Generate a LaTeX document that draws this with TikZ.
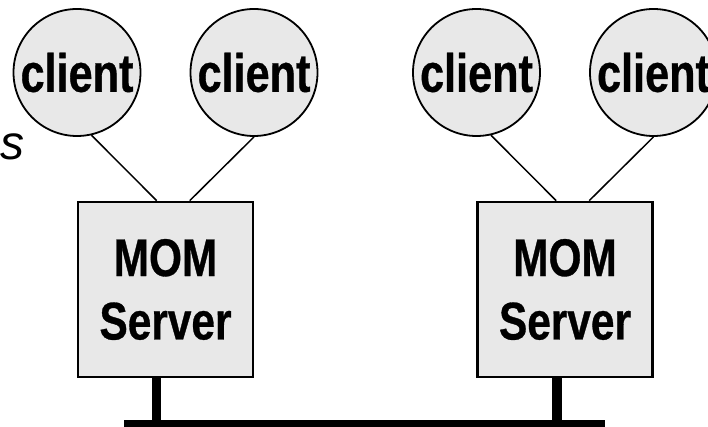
\documentclass[tikz,border=0pt]{standalone}
\usepackage{fontspec}
\setmainfont{Liberation Sans}
\newfontfamily\narrowfont{Liberation Sans}[FakeStretch=0.8,BoldFeatures={FakeBold=0.6}]
\usetikzlibrary{calc}
\definecolor{boxfill}{gray}{0.91}
\begin{document}
\begin{tikzpicture}[x=1pt,y=1pt,
  clientnode/.style={circle, draw, line width=1.8pt, fill=boxfill, minimum size=127pt, inner sep=0pt,
    font=\narrowfont\bfseries\fontsize{54}{60}\selectfont},
  server/.style={rectangle, draw, line width=2.6pt, fill=boxfill, minimum width=175pt, minimum height=175pt,
    inner sep=0pt, align=center, font=\narrowfont\bfseries\fontsize{53}{63.4}\selectfont},
  link/.style={line width=1.5pt},
  wire/.style={line width=9.5pt},
]
\clip (0,0) rectangle (708,427);
\fill[white] (0,0) rectangle (708,427);
% clients
\node[clientnode] (c1) at (77,354.5) {client};
\node[clientnode] (c2) at (254,354.5) {client};
\node[clientnode] (c3) at (476.5,354.5) {client};
\node[clientnode] (c4) at (653.5,354.5) {client};
% servers
\node[server] (s1) at (165.5,137.5) {MOM\\Server};
\node[server] (s2) at (565,137.5) {MOM\\Server};
% fragment of a word at the left edge
\node[anchor=base west, inner sep=0pt, font=\itshape\fontsize{48}{50}\selectfont] (frag) at (0,267) {s};
% client links
\draw[link] (c1.-77) -- ($(s1.north west)+(80,0)$);
\draw[link] (c2.-90) -- ($(s1.north west)+(113,0)$);
\draw[link] (c3.-77) -- ($(s2.north west)+(80,0)$);
\draw[link] (c4.-90) -- ($(s2.north west)+(113,0)$);
% bus
\coordinate (busL) at (124,3);
\coordinate (busR) at (605,3);
\draw[line width=8pt] (busL) -- (busR);
\coordinate (st1) at ($(s1.south west)+(80,0)$);
\coordinate (st2) at ($(s2.south west)+(81,0)$);
\draw[wire] (st1) -- (st1 |- busL);
\draw[wire] (st2) -- (st2 |- busL);
\end{tikzpicture}
\end{document}
